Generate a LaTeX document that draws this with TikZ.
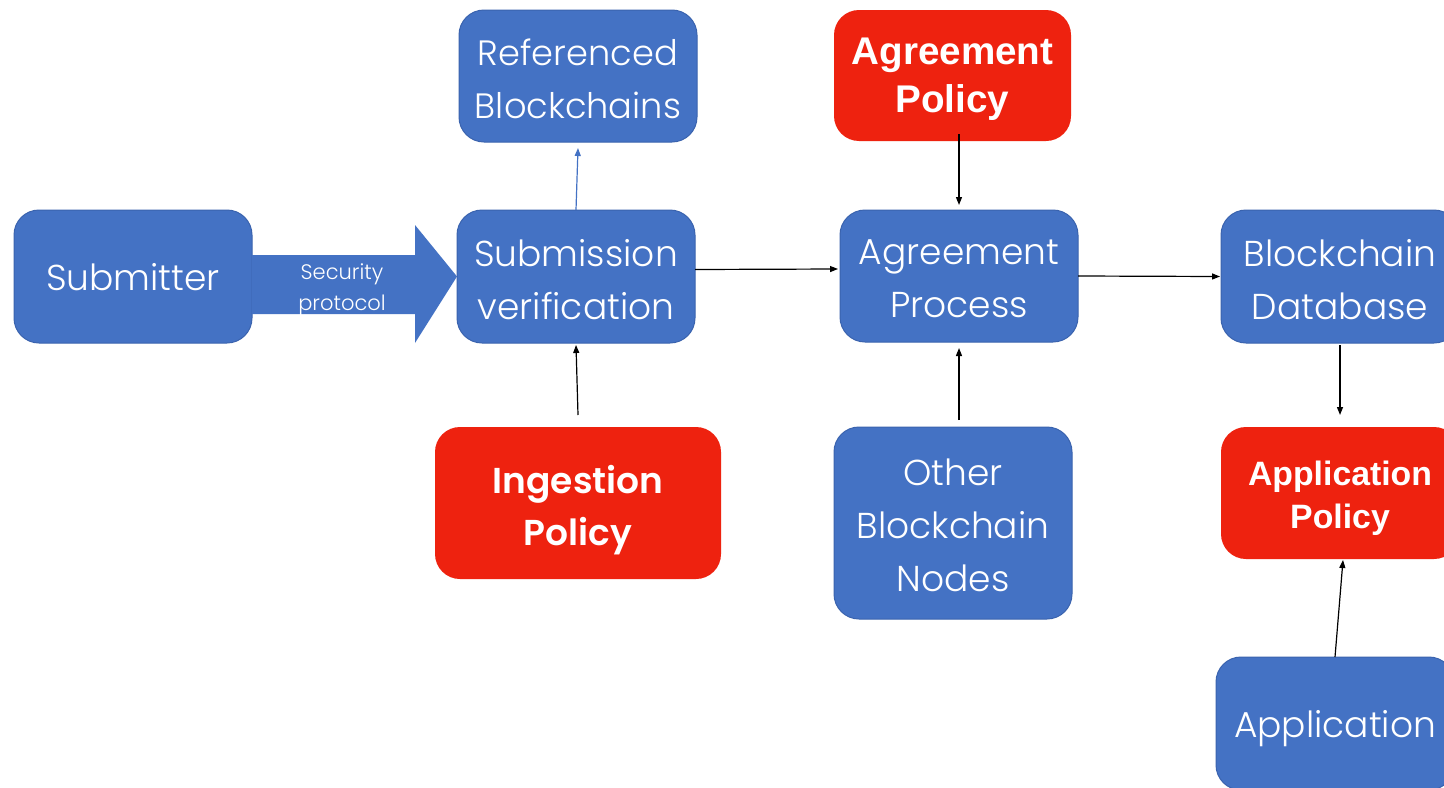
\documentclass[tikz,border=0pt]{standalone}
\usepackage{fontspec}
\setmainfont{Poppins Light}
\newfontfamily\semib{Poppins SemiBold}
\newfontfamily\helvb{Liberation Sans}
\usetikzlibrary{arrows.meta}
\definecolor{boxblue}{HTML}{4472C4}
\definecolor{boxedge}{HTML}{3A63AE}
\definecolor{boxred}{HTML}{EE220F}
\tikzset{
  px/.style={x=0.5pt,y=-0.5pt},
  bluebox/.style={fill=boxblue,draw=boxedge,line width=0.5pt,rounded corners=12.5pt,
    inner sep=0pt,outer sep=0pt},
  redbox/.style={fill=boxred,draw=none,rounded corners=12.5pt,
    inner sep=0pt,outer sep=0pt},
  bluetext/.style={text=white,align=center,inner sep=0pt,
    font=\fontsize{18}{26.5}\selectfont},
  redtext/.style={text=white,align=center,inner sep=0pt},
  link/.style={draw=black,line width=0.6pt,-{Triangle[length=4pt,width=3pt]}},
  bluelink/.style={draw=boxblue,line width=0.6pt,-{Triangle[length=4pt,width=3pt]}},
}
\begin{document}
\begin{tikzpicture}[px]
\clip (0,0) rectangle (1444,787);
\fill[white] (0,0) rectangle (1444,787);

% boxes
\node[bluebox,minimum width=119pt,minimum height=66.5pt] (sub) at (133,276.5) {};
\node[bluebox,minimum width=119pt,minimum height=66.5pt] (sv) at (576,276.5) {};
\node[bluebox,minimum width=119pt,minimum height=66pt] (ref) at (578,76) {};
\node[redbox,minimum width=143pt,minimum height=76pt] (ing) at (578,503) {};
\node[redbox,minimum width=118.5pt,minimum height=65.5pt] (agp) at (952.5,75.5) {};
\node[bluebox,minimum width=119pt,minimum height=66pt] (proc) at (959,276) {};
\node[bluebox,minimum width=119pt,minimum height=96pt] (oth) at (953,523) {};
\node[bluebox,minimum width=119pt,minimum height=66.5pt] (db) at (1340,276.5) {};
\node[redbox,minimum width=119pt,minimum height=66pt] (apol) at (1340,493) {};
\node[bluebox,minimum width=119pt,minimum height=66.5pt] (app) at (1335,723.5) {};

% box captions
\node[bluetext] (sub-t) at ([yshift=-0.3pt]sub.center) {Submitter};
\node[bluetext] (sv-t) at ([yshift=-1.5pt]sv.center) {Submission\\verification};
\node[bluetext,font=\fontsize{17.6}{26.5}\selectfont] (ref-t) at ([yshift=-1.5pt]ref.center) {Referenced\\Blockchains};
\node[redtext,font=\semib\fontsize{18}{26}\selectfont] (ing-t) at ([yshift=-3.5pt]ing.center) {Ingestion\\Policy};
\node[redtext,font=\helvb\bfseries\fontsize{19.3}{24}\selectfont] (agp-t) at ([yshift=-2pt]agp.center) {Agreement\\Policy};
\node[bluetext] (proc-t) at ([yshift=-1.5pt]proc.center) {Agreement\\Process};
\node[bluetext] (oth-t) at ([yshift=-1pt]oth.center) {Other\\Blockchain\\Nodes};
\node[bluetext] (db-t) at ([yshift=-1.5pt]db.center) {Blockchain\\Database};
\node[redtext,font=\helvb\bfseries\fontsize{16.9}{21.5}\selectfont] (apol-t) at ([yshift=-2.5pt]apol.center) {Application\\Policy};
\node[bluetext] (app-t) at ([yshift=-2.3pt]app.center) {Application};

% broad arrow carrying the security protocol
\fill[boxblue] (sub.east |- 0,255) -- (415,255) -- (415,225) -- (sv.west) -- (415,343)
  -- (415,314) -- (sub.east |- 0,314) -- cycle;
\node[text=white,align=center,font=\fontsize{10.5}{15.5}\selectfont] (sec) at (342,290)
  {Security\\protocol};

% connectors
\draw[bluelink] (sv.north) -- ([yshift=-3pt]ref.south);
\draw[link] ([yshift=6pt]ing.north) -- ([yshift=-1pt]sv.south);
\draw[link] ([yshift=3.5pt]sv.east) -- ([yshift=3.5pt,xshift=-1pt]proc.west);
\draw[link] ([yshift=3.5pt]agp.south -| proc.north) -- ([yshift=2.5pt]proc.north);
\draw[link] ([yshift=3.5pt]oth.north -| proc.south) -- ([yshift=-3pt]proc.south);
\draw[link] (proc.east) -- ([xshift=-0.5pt]db.west);
\draw[link] ([yshift=-1pt]db.south) -- ([yshift=6pt]apol.north);
\draw[link] (app.north) -- ([xshift=1.5pt,yshift=-0.5pt]apol.south);
\end{tikzpicture}
\end{document}
